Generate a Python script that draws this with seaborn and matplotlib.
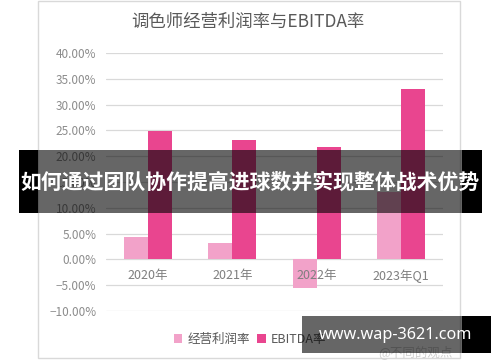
import matplotlib.pyplot as plt
import pandas as pd
import seaborn as sns
from matplotlib.patches import Rectangle

years = ['2020年', '2021年', '2022年', '2023年Q1']
op_margin = [4.4, 3.1, -5.6, 13.0]
ebitda_margin = [24.8, 23.1, 21.7, 33.0]
series_names = ['经营利润率', 'EBITDA率']
y_ticks = [-10, -5, 0, 5, 10, 15, 20, 25, 30, 35, 40]

df = pd.DataFrame({
    'year': years * 2,
    'value': op_margin + ebitda_margin,
    'series': [series_names[0]] * 4 + [series_names[1]] * 4,
})

sns.set_theme(style='white')
plt.rcParams['font.family'] = ['Noto Sans CJK SC', 'DejaVu Sans']

W, H = 500, 362
fig = plt.figure(figsize=(5, 3.62), dpi=100)
ax = fig.add_axes([106 / W, 1 - 311 / H, 337 / W, 258 / H])

sns.barplot(data=df, x='year', y='value', hue='series',
            palette=['#F2A2C9', '#E9458F'], width=0.57, saturation=1,
            linewidth=0, ax=ax)
handles, labels = ax.get_legend_handles_labels()
ax.get_legend().remove()

ax.set_ylim(-10, 40)
ax.set_yticks(y_ticks)
ax.yaxis.set_major_formatter(lambda v, p: f'{v:.2f}%'.replace('-', '\u2212'))
ax.grid(axis='y', color='#d9d9d9', lw=0.9)
ax.set_axisbelow(True)
# category labels sit on the zero line, drawn over the bars
ax.xaxis.set_zorder(5)
for s in ax.spines.values():
    s.set_visible(False)
ax.spines['bottom'].set_position(('data', 0))
ax.tick_params(axis='x', length=0, pad=7, labelsize=9, labelcolor='#7f7f7f')
ax.tick_params(axis='y', length=0, pad=7, labelsize=8.5, labelcolor='#8c8c8c')
ax.set_xlabel('')
ax.set_ylabel('')

fig.text(248 / W, 1 - 22 / H, '调色师经营利润率与EBITDA率', ha='center', va='center',
         fontsize=12.5, color='#595959')

fig.legend(handles, labels, loc='center', bbox_to_anchor=(250 / W, 1 - 339 / H),
           ncol=2, frameon=False, fontsize=9, handlelength=0.7, handleheight=0.7,
           handletextpad=0.4, columnspacing=0.6, labelcolor='#595959')

# chart frame
fig.add_artist(Rectangle((38 / W, 1 - 358 / H), 422 / W, 357 / H,
                         transform=fig.transFigure, fill=False,
                         edgecolor='#d9d9d9', lw=1))

# faint source watermark
fig.text(415 / W, 1 - 352 / H, '@不同的观点', ha='center', va='center',
         fontsize=9, color='#d0d0d0')

# overlay banner
def overlay(x0, x1, y0, y1):
    fig.add_artist(Rectangle((x0 / W, 1 - y1 / H), (462 - x0) / W, (y1 - y0) / H,
                             transform=fig.transFigure, color='black', alpha=0.6,
                             lw=0, zorder=10))
    fig.add_artist(Rectangle((462 / W, 1 - y1 / H), (x1 - 462) / W, (y1 - y0) / H,
                             transform=fig.transFigure, color='black',
                             lw=0, zorder=10))

overlay(38, 482, 150, 213)
fig.add_artist(Rectangle((19 / W, 1 - 213 / H), 19 / W, 63 / H,
                         transform=fig.transFigure, color='black', lw=0, zorder=10))
fig.text(250 / W, 1 - 182 / H, '如何通过团队协作提高进球数并实现整体战术优势',
         ha='center', va='center', fontsize=15, fontweight='bold', color='white',
         zorder=11)

overlay(302, 491, 316, 353)
fig.text(396 / W, 1 - 335 / H, 'www.wap-3621.com', ha='center', va='center',
         fontsize=11.7, fontweight='bold', color='white', family='Noto Sans',
         zorder=11)

fig.savefig('out.png', dpi=100)
